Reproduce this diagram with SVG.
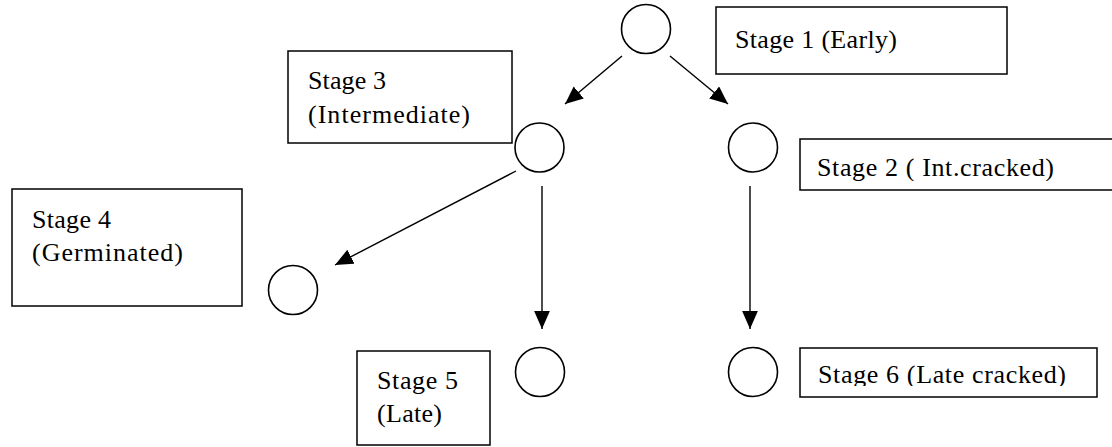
<svg xmlns="http://www.w3.org/2000/svg" width="1112" height="447" viewBox="0 0 1112 447">
<style>
.box{fill:#fff;stroke:#000;stroke-width:1.5}
.node{fill:#fff;stroke:#000;stroke-width:1.6}
.lbl{font-family:"Liberation Serif","Times New Roman",serif;font-size:26px;fill:#000}
.edge{stroke:#000;stroke-width:1.4;fill:none;marker-end:url(#ah)}
</style>
<defs>
<marker id="ah" markerUnits="userSpaceOnUse" markerWidth="18" markerHeight="16" refX="16" refY="7" orient="auto" viewBox="0 0 16 14">
<path d="M0,0 L16,7 L0,14 Z" fill="#000"/>
</marker>
<clipPath id="c2"><rect x="800" y="139" width="320" height="42"/></clipPath>
<clipPath id="c6"><rect x="800" y="348" width="297" height="38"/></clipPath>
</defs>
<rect width="1112" height="447" fill="#fff"/>
<g id="connectors">
<line class="edge" x1="622" y1="56" x2="565" y2="104"/>
<line class="edge" x1="670" y1="56" x2="728" y2="104"/>
<line class="edge" x1="516" y1="171" x2="335" y2="265"/>
<line class="edge" x1="542" y1="186" x2="542" y2="329"/>
<line class="edge" x1="750" y1="186" x2="750" y2="329"/>
</g>
<g id="n1"><circle class="node" cx="646" cy="29" r="24.5"/></g>
<g id="n3"><circle class="node" cx="539.5" cy="147.5" r="24.5"/></g>
<g id="n2"><circle class="node" cx="753" cy="147.5" r="24.5"/></g>
<g id="n4"><circle class="node" cx="293" cy="290" r="24.5"/></g>
<g id="n5"><circle class="node" cx="540" cy="372" r="24.5"/></g>
<g id="n6"><circle class="node" cx="753" cy="372" r="24.5"/></g>
<g id="label1"><rect class="box" x="716" y="7" width="291" height="67"/><text class="lbl" x="735" y="48" textLength="162" lengthAdjust="spacing">Stage 1 (Early)</text></g>
<g id="label3"><rect class="box" x="288" y="51" width="224" height="92"/><text class="lbl" x="308" y="89" textLength="78" lengthAdjust="spacing">Stage 3</text><text class="lbl" x="308" y="123" textLength="162" lengthAdjust="spacing">(Intermediate)</text></g>
<g id="label2"><rect class="box" x="800" y="139" width="320" height="51"/><text class="lbl" x="817" y="176" textLength="237" lengthAdjust="spacing" clip-path="url(#c2)">Stage 2 ( Int.cracked)</text></g>
<g id="label4"><rect class="box" x="12" y="189" width="230" height="117"/><text class="lbl" x="32" y="228" textLength="79" lengthAdjust="spacing">Stage 4</text><text class="lbl" x="32" y="261" textLength="151" lengthAdjust="spacing">(Germinated)</text></g>
<g id="label5"><rect class="box" x="357" y="351" width="133" height="94"/><text class="lbl" x="377" y="389" textLength="81" lengthAdjust="spacing">Stage 5</text><text class="lbl" x="377" y="422" textLength="65" lengthAdjust="spacing">(Late)</text></g>
<g id="label6"><rect class="box" x="800" y="348" width="297" height="49"/><text class="lbl" x="818" y="383" textLength="248" lengthAdjust="spacing" clip-path="url(#c6)">Stage 6 (Late cracked)</text></g>
</svg>
